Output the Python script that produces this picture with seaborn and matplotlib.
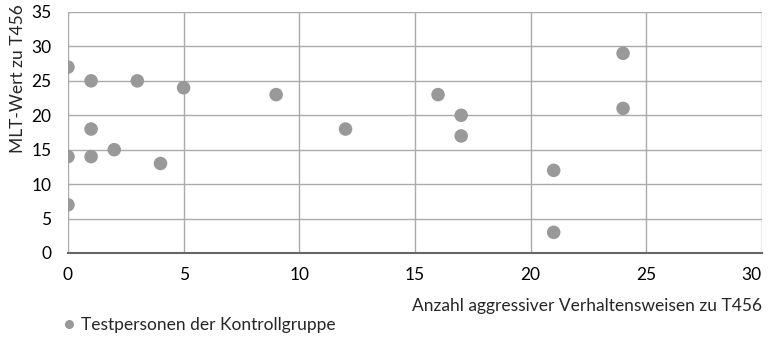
import numpy as np
import pandas as pd
import seaborn as sns
import matplotlib
from matplotlib import pyplot as plt

# Anzahl aggressiver Verhaltensweisen / MLT-Wert (Kontrollgruppe)
aggression = [0, 0, 0, 1, 1, 1, 2, 3, 4, 5, 9, 12, 16, 17, 17, 21, 21, 24, 24]
mlt_wert = [27, 14, 7, 25, 18, 14, 15, 25, 13, 24, 23, 18, 23, 20, 17, 12, 3, 29, 21]
x_ticks = [0, 5, 10, 15, 20, 25, 30]
y_ticks = [0, 5, 10, 15, 20, 25, 30, 35]

sns.set_style('white')
plt.rcParams['font.family'] = ['Lato', 'DejaVu Sans']
matplotlib.rc('font', size=12.5)

df = pd.DataFrame({'x': aggression, 'y': mlt_wert,
                   'Gruppe': 'Testpersonen der Kontrollgruppe'})

fig = plt.figure(figsize=(7.68, 3.38), dpi=100)
ax = fig.add_axes([0.0885, 0.2515, 0.9035, 0.713])

sns.scatterplot(data=df, x='x', y='y', hue='Gruppe', palette=['#999999'],
                s=95, edgecolor='none', ax=ax, zorder=3, legend=False)

ax.set_xlim(0, 30)
ax.set_ylim(0, 35)
ax.set_xticks(x_ticks)
ax.set_yticks(y_ticks)
ax.grid(True, color='#aaaaaa', linewidth=1)
ax.tick_params(length=0, labelsize=12.5, colors='black')
ax.tick_params(axis='x', pad=10)
ax.tick_params(axis='y', pad=12)
# last x label sits flush with the right edge
ax.get_xticklabels()[-1].set_horizontalalignment('right')
for s in ['top', 'right', 'left']:
    ax.spines[s].set_visible(False)
ax.spines['bottom'].set_color('#666666')
ax.spines['bottom'].set_linewidth(1.5)
ax.set_axisbelow(True)

ax.set_xlabel('Anzahl aggressiver Verhaltensweisen zu T456', loc='right',
              fontsize=12.5, labelpad=11)
ax.set_ylabel('')
fig.text(18 / 768, 1 - 4 / 338, 'MLT-Wert zu T456', rotation=90,
         ha='center', va='top', fontsize=12.5)

handle = plt.Line2D([], [], marker='o', linestyle='none', color='#999999',
                    markersize=5.5)
fig.legend([handle], ['Testpersonen der Kontrollgruppe'], loc='lower left',
           bbox_to_anchor=(0.069, -0.005), frameon=False, fontsize=12.5,
           handlelength=1.0, handletextpad=0.2, borderaxespad=0)

fig.savefig('out.png', dpi=100)
